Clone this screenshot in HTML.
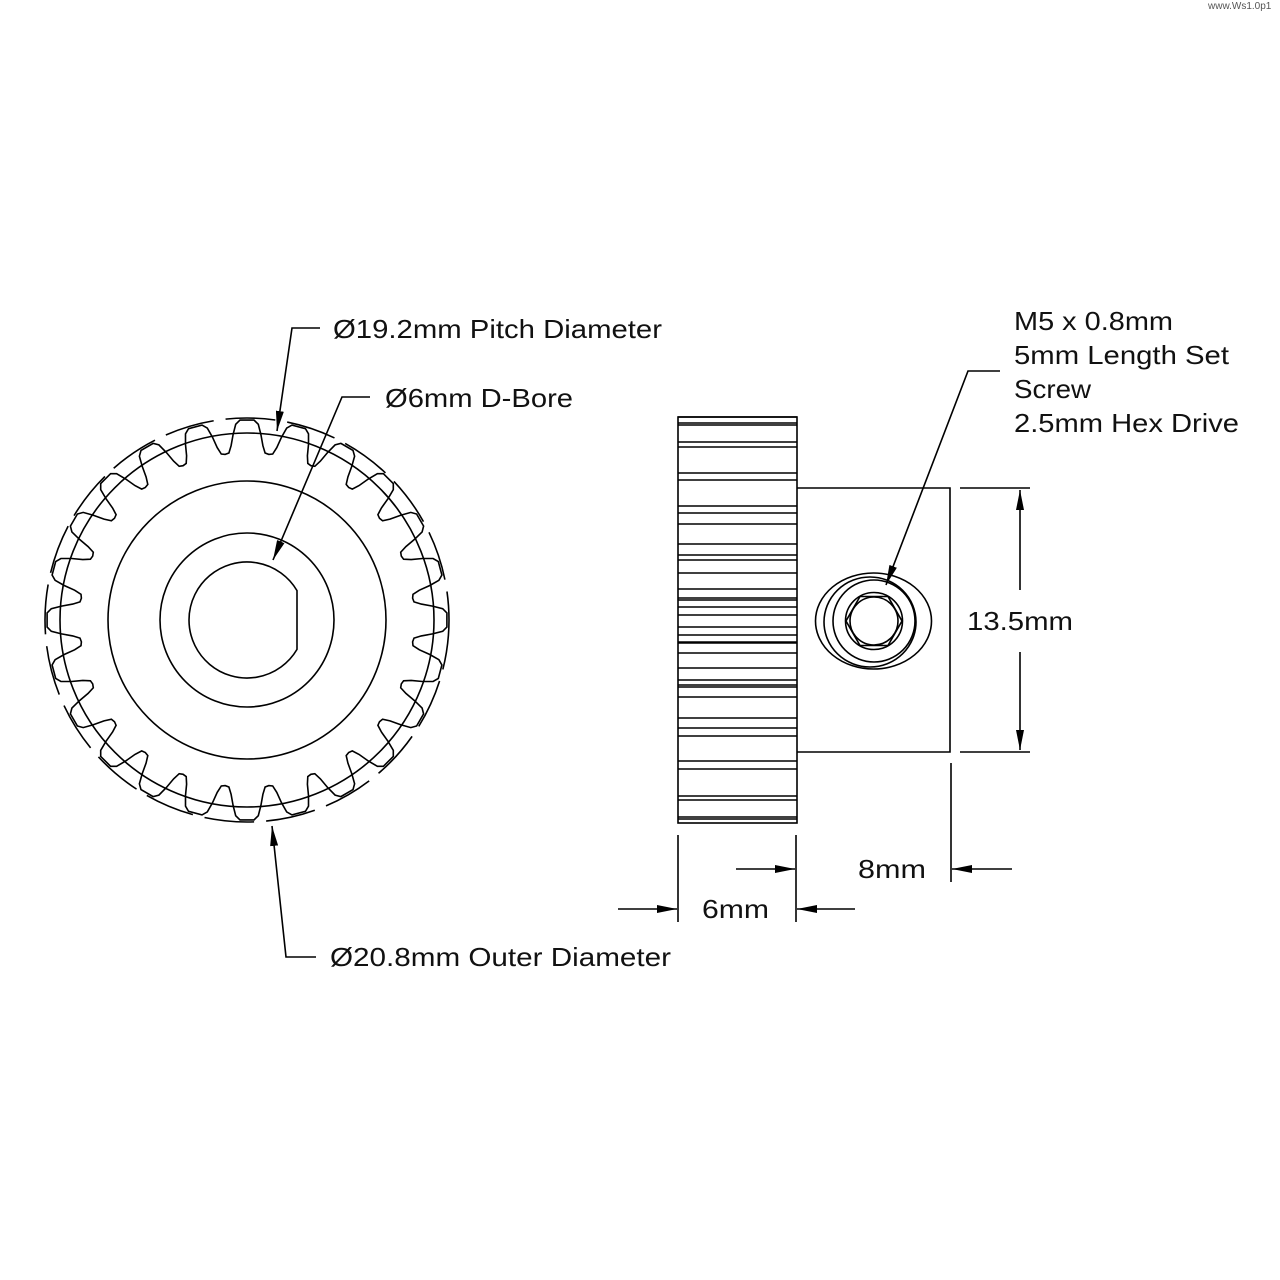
<!DOCTYPE html>
<html><head><meta charset="utf-8"><style>
html,body{margin:0;padding:0;background:#fff}
svg{display:block}
text{font-family:"Liberation Sans",sans-serif;font-size:26px;fill:#111}
</style></head><body>
<svg width="1280" height="1280" viewBox="0 0 1280 1280" xmlns="http://www.w3.org/2000/svg">
<defs>
<marker id="ar" viewBox="0 0 20 8" refX="20" refY="4" markerWidth="20" markerHeight="8" markerUnits="userSpaceOnUse" orient="auto">
<path d="M0,0 L20,4 L0,8 Z" fill="#000"/></marker>
</defs>
<text x="1208" y="9" style="font-size:10px;fill:#555">www.Ws1.0p1</text>
<g fill="none" stroke="#000" stroke-width="1.6">
<circle cx="247" cy="620" r="202" stroke-dasharray="50 12"/>
<circle cx="247" cy="620" r="187"/>
<path id="teeth" d=""/>
<circle cx="247" cy="620" r="139"/>
<circle cx="247" cy="620" r="87"/>
<path d="M297,590.6 A58,58 0 1 0 297,649.4 Z"/>
<rect x="678" y="417" width="119" height="406"/>
<g id="hl"></g>
<path d="M797,488 H950 V752 H797"/>
<ellipse cx="873.5" cy="621" rx="58" ry="48"/>
<ellipse cx="870" cy="622" rx="46" ry="45"/>
<circle cx="874" cy="621" r="41"/>
<circle cx="874" cy="621" r="28.5"/>
<polygon points="902,621 888,645.5 860,645.5 846,621 860,596.5 888,596.5"/>
<circle cx="874" cy="621" r="24"/>
<polyline points="320,328 292,328 277,431" marker-end="url(#ar)"/>
<polyline points="370,397 342,397 273,560" marker-end="url(#ar)"/>
<polyline points="316,957 286,957 272,826" marker-end="url(#ar)"/>
<polyline points="1000,371 968,371 886,585" marker-end="url(#ar)"/>
<line x1="960" y1="488" x2="1030" y2="488"/>
<line x1="960" y1="752" x2="1030" y2="752"/>
<line x1="1020" y1="590" x2="1020" y2="490" marker-end="url(#ar)"/>
<line x1="1020" y1="652" x2="1020" y2="750" marker-end="url(#ar)"/>
<line x1="678" y1="835" x2="678" y2="922"/>
<line x1="796" y1="835" x2="796" y2="922"/>
<line x1="618" y1="909" x2="677" y2="909" marker-end="url(#ar)"/>
<line x1="855" y1="909" x2="797" y2="909" marker-end="url(#ar)"/>
<line x1="951" y1="763" x2="951" y2="882"/>
<line x1="736" y1="869" x2="795" y2="869" marker-end="url(#ar)"/>
<line x1="1012" y1="869" x2="952" y2="869" marker-end="url(#ar)"/>
</g>
<text x="333" y="338" textLength="329" lengthAdjust="spacingAndGlyphs">Ø19.2mm Pitch Diameter</text>
<text x="385" y="407" textLength="188" lengthAdjust="spacingAndGlyphs">Ø6mm D-Bore</text>
<text x="330" y="966" textLength="341" lengthAdjust="spacingAndGlyphs">Ø20.8mm Outer Diameter</text>
<text x="1014" y="330" textLength="159" lengthAdjust="spacingAndGlyphs">M5 x 0.8mm</text>
<text x="1014" y="364" textLength="215" lengthAdjust="spacingAndGlyphs">5mm Length Set</text>
<text x="1014" y="398" textLength="77" lengthAdjust="spacingAndGlyphs">Screw</text>
<text x="1014" y="432" textLength="225" lengthAdjust="spacingAndGlyphs">2.5mm Hex Drive</text>
<text x="967" y="630" textLength="106" lengthAdjust="spacingAndGlyphs">13.5mm</text>
<text x="702" y="918" textLength="67" lengthAdjust="spacingAndGlyphs">6mm</text>
<text x="858" y="878" textLength="68" lengthAdjust="spacingAndGlyphs">8mm</text>
</svg>
<script>
(function(){
var cx=247,cy=620,d="";
var prof=[[-7.5,167],[-6.2,168],[-5.2,175],[-4.3,186],[-3.3,196],[-2,200],[2,200],[3.3,196],[4.3,186],[5.2,175],[6.2,168]];
for(var k=0;k<24;k++){
 var base=-90+k*15;
 for(var i=0;i<prof.length;i++){
  var a=(base+prof[i][0])*Math.PI/180,r=prof[i][1];
  var x=(cx+r*Math.cos(a)).toFixed(1),y=(cy+r*Math.sin(a)).toFixed(1);
  d+=(d===""?"M":"L")+x+","+y;
 }
}
d+="Z";
document.getElementById("teeth").setAttribute("d",d);
var ys=[417,423,425,442,447,473,480,506,513,524,544,555,560,573,589,598,600,607,615,627,635,642,643,653,668,680,685,687,697,718,728,736,761,769,796,800,817,819];
var g=document.getElementById("hl"),s="";
for(var j=0;j<ys.length;j++){s+='<line x1="678" x2="797" y1="'+ys[j]+'" y2="'+ys[j]+'"/>';}
g.innerHTML=s;
})();
</script>
</body></html>
